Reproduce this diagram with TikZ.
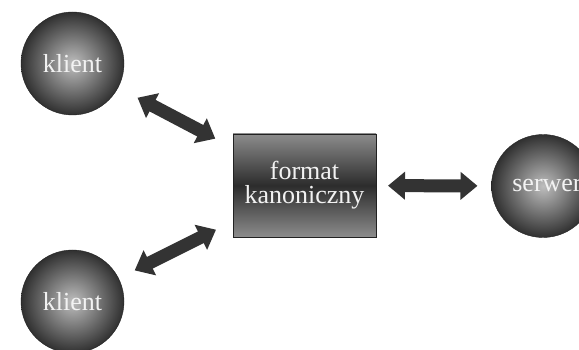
\documentclass[tikz,border=0pt]{standalone}
\usepackage{fontspec}
\setmainfont{Liberation Serif}
\usetikzlibrary{arrows.meta}
\definecolor{colorballin}  {RGB}{190,190,190}
\definecolor{colorballout} {RGB}{48 ,48 ,48 }
\definecolor{colorboxedge} {RGB}{140,140,140}
\definecolor{colorboxmid}  {RGB}{44 ,44 ,44 }
\definecolor{colorarrow}   {RGB}{51 ,51 ,51 }
\definecolor{colortext}    {RGB}{242,242,242}

\begin{document}
\begin{tikzpicture}[
    x=1pt, y=-1pt,
    font={\fontsize{26}{24}\selectfont},
    base/.style={text=colortext,align=center,inner sep=0pt,outer sep=0pt,draw=colorballout!70!black,thin},
    ball/.style={base,circle,minimum size=103pt,shading=radial,inner color=colorballin,outer color=colorballout},
    canon/.style={base,rectangle,minimum width=143pt,minimum height=103pt,top color=colorboxedge,bottom color=colorboxedge,middle color=colorboxmid},
    link/.style={colorarrow,line width=13pt,{Triangle[width=27pt,length=17pt]}-{Triangle[width=27pt,length=17pt]}},
]
    \useasboundingbox (0,0) rectangle (579,350);

    % Nodes
    \node[canon] (format)  at (304.5,185.5) {format\\kanoniczny};
    \node[ball]  (klientA) at (72.5,63.5)   {klient};
    \node[ball]  (klientB) at (72.5,301.5)  {klient};
    \node[ball]  (serwer)  at (543,186)     {\hspace*{8pt}serwer};

    % Arrows
    \draw[link,shorten <=22pt,shorten >=20pt] (klientA) -- (format);
    \draw[link,shorten <=18pt,shorten >=19pt] (klientB) -- (format);
    \draw[link,shorten <=12pt,shorten >=14pt] (format) -- (serwer);

\end{tikzpicture}
\end{document}
